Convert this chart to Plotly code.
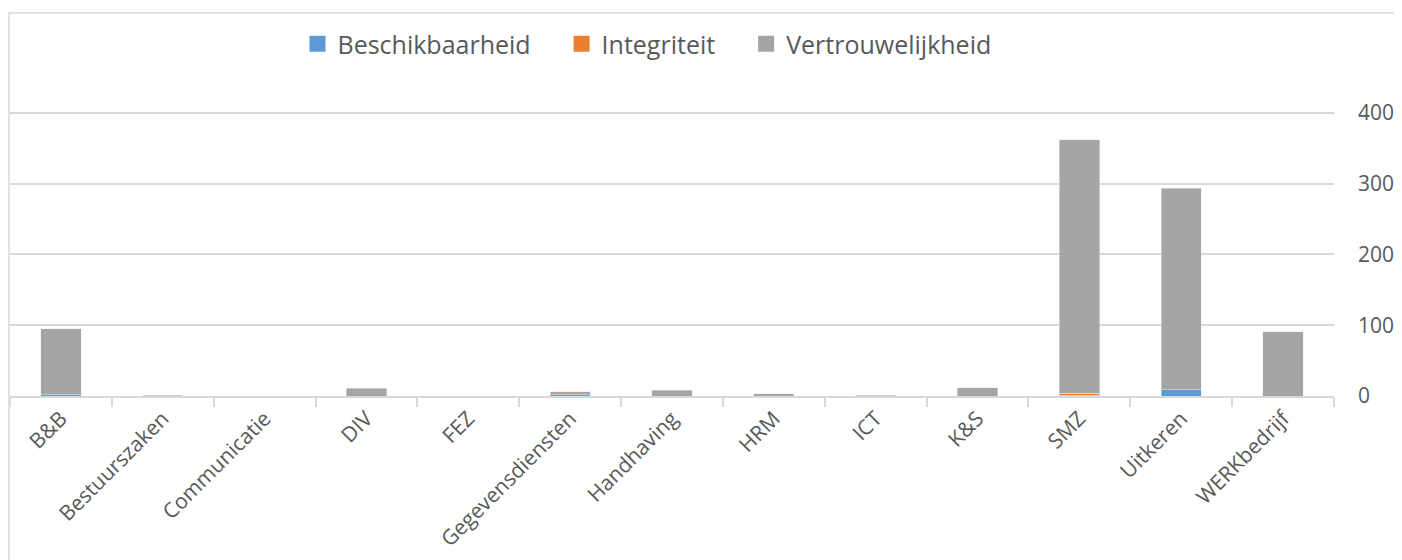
import plotly.graph_objects as go

categories = ["B&B", "Bestuurszaken", "Communicatie", "DIV", "FEZ", "Gegevensdiensten",
              "Handhaving", "HRM", "ICT", "K&S", "SMZ", "Uitkeren", "WERKbedrijf"]
beschikbaarheid = [2, 0, 0, 0, 0, 0, 0, 0, 0, 0, 1, 9, 0]
integriteit = [0, 0, 0, 0, 0, 2, 0, 0, 0, 0, 3, 0, 0]
vertrouwelijkheid = [93, 1, 0, 11, 0, 4, 8, 3, 1, 12, 358, 284, 91]
series_names = ["Beschikbaarheid", "Integriteit", "Vertrouwelijkheid"]
series_colors = ["#5B9BD5", "#ED7D31", "#A5A5A5"]
y_ticks = [0, 100, 200, 300, 400]

FONT = "Open Sans"
TXT = "#595959"

# page body has an 8px margin: work in reference pixels and shift
OFF = 8
W, H = 1402 - OFF, 560 - OFF
L = 10 - OFF
T = 56 - OFF
plot_right = 1334 - OFF
plot_bottom = 396 - OFF
R = W - plot_right
B = H - plot_bottom
pw = W - L - R
ph = H - T - B


def px_x(px):
    return (px - OFF - L) / pw


def px_y(py):
    return (plot_bottom - (py - OFF)) / ph


fig = go.Figure()
for name, vals, col in zip(series_names, [beschikbaarheid, integriteit, vertrouwelijkheid], series_colors):
    fig.add_trace(go.Bar(name=name, x=categories, y=vals, marker_color=col,
                         showlegend=False, legendgroup=name))
# legend entries with larger square symbols
for i, (name, col) in enumerate(zip(series_names, series_colors)):
    pad = "\u00a0" * 4 if i < len(series_names) - 1 else ""
    fig.add_trace(go.Scatter(name=name + pad, x=[None], y=[None], mode="markers",
                             marker=dict(symbol="square", size=17, color=col),
                             legendgroup=name, showlegend=True))

fig.update_layout(
    barmode="stack",
    bargap=0.605,
    width=W, height=H,
    margin=dict(l=L, r=R, t=T, b=B, pad=0),
    paper_bgcolor="white",
    plot_bgcolor="white",
    font=dict(family=FONT, color=TXT, size=20),
    legend=dict(
        orientation="h",
        x=px_x(647), y=px_y(44),
        xanchor="center", yanchor="middle",
        font=dict(size=25, color=TXT, family=FONT),
        traceorder="normal",
        itemwidth=30,
        bgcolor="rgba(0,0,0,0)",
    ),
    xaxis=dict(
        showgrid=False,
        showline=True, linecolor="#D9D9D9", linewidth=2,
        ticks="outside", tickson="boundaries", ticklen=9, tickcolor="#D9D9D9", tickwidth=2,
        tickangle=-45,
        tickfont=dict(size=21, color=TXT, family=FONT),
        fixedrange=True,
    ),
    yaxis=dict(
        side="right",
        range=[0, 480],
        tickvals=y_ticks,
        showgrid=True, gridcolor="#D9D9D9", gridwidth=2,
        zeroline=False,
        showline=False,
        ticks="",
        ticklabelstandoff=23,
        tickfont=dict(size=21, color=TXT, family=FONT),
    ),
    shapes=[dict(
        type="rect", xref="paper", yref="paper",
        x0=px_x(9), x1=px_x(1398),
        y0=px_y(575), y1=px_y(13),
        line=dict(color="#D9D9D9", width=1.5),
        fillcolor="rgba(0,0,0,0)",
        layer="below",
    )],
)

fig.write_html("out.html")
